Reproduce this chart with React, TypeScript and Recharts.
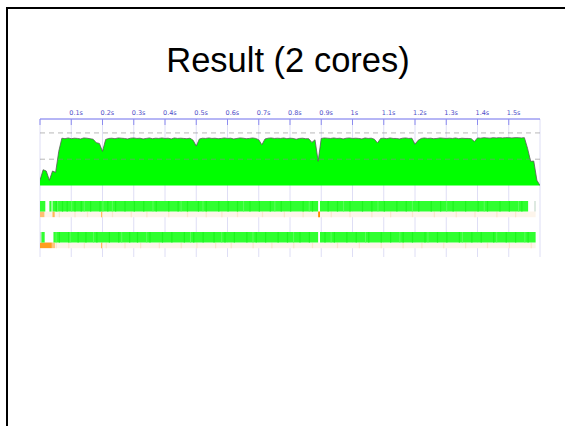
import { ComposedChart, Area, XAxis, YAxis, CartesianGrid, ReferenceLine, ReferenceArea } from 'recharts';

// sample step of the activity profile (seconds)
const STEP = 0.01;

// number of busy cores, one sample per STEP starting at t = 0
const ACTIVITY = [
    0.2, 0.6, 0.55, 0.2, 0.55, 0.5, 1.3, 1.8, 1.78, 1.81,
    1.78, 1.80, 1.79, 1.77, 1.81, 1.80, 1.78, 1.76, 1.63, 1.6,
    1.30, 1.75, 1.79, 1.80, 1.78, 1.81, 1.80, 1.79, 1.77, 1.80,
    1.81, 1.79, 1.80, 1.77, 1.79, 1.81, 1.78, 1.80, 1.79, 1.81,
    1.79, 1.80, 1.77, 1.81, 1.79, 1.80, 1.79, 1.78, 1.80, 1.72,
    1.50, 1.77, 1.80, 1.79, 1.81, 1.79, 1.80, 1.78, 1.79, 1.81,
    1.79, 1.80, 1.77, 1.79, 1.81, 1.80, 1.78, 1.79, 1.81, 1.79,
    1.74, 1.55, 1.77, 1.80, 1.81, 1.79, 1.80, 1.79, 1.81, 1.78,
    1.80, 1.79, 1.76, 1.79, 1.80, 1.78, 1.78, 1.64, 1.74, 0.92,
    1.79, 1.81, 1.80, 1.79, 1.81, 1.79, 1.80, 1.77, 1.80, 1.81,
    1.79, 1.80, 1.79, 1.77, 1.81, 1.79, 1.80, 1.76, 1.62, 1.79,
    1.80, 1.78, 1.81, 1.79, 1.79, 1.77, 1.80, 1.81, 1.79, 1.80,
    1.57, 1.72, 1.79, 1.81, 1.79, 1.80, 1.78, 1.79, 1.81, 1.80,
    1.79, 1.80, 1.79, 1.81, 1.78, 1.80, 1.79, 1.79, 1.78, 1.67,
    1.81, 1.80, 1.82, 1.81, 1.80, 1.82, 1.81, 1.82, 1.81, 1.82,
    1.82, 1.81, 1.82, 1.82, 1.81, 1.82, 1.42, 0.92, 0.93, 0.2, 0,
];

const TICKS = [0, 0.1, 0.2, 0.3, 0.4, 0.5, 0.6, 0.7, 0.8, 0.9, 1, 1.1, 1.2, 1.3, 1.4, 1.5];
const TICK_LABELS = ['', '0.1s', '0.2s', '0.3s', '0.4s', '0.5s', '0.6s', '0.7s', '0.8s', '0.9s', '1s', '1.1s', '1.2s', '1.3s', '1.4s', '1.5s'];

// per-core timelines: [start, end] in seconds
const CORE0_BUSY = [[0, 0.017], [0.030, 0.037], [0.040, 0.890], [0.896, 1.562]];
const CORE1_BUSY = [[0.004, 0.015], [0.043, 0.890], [0.896, 1.586]];
const CORE0_DARK = [0.05, 0.07, 0.085, 0.11, 0.13, 0.16, 0.19, 0.215, 0.24, 0.27, 0.30, 0.33, 0.37, 0.41, 0.44, 0.47, 0.505, 0.53, 0.57, 0.60, 0.63, 0.67, 0.70, 0.735, 0.77, 0.80, 0.84, 0.87, 0.92, 0.95, 0.99, 1.03, 1.06, 1.10, 1.14, 1.17, 1.21, 1.25, 1.28, 1.32, 1.36, 1.40, 1.43, 1.47, 1.50, 1.54];
const CORE1_DARK = [0.06, 0.09, 0.12, 0.145, 0.18, 0.22, 0.25, 0.285, 0.31, 0.35, 0.39, 0.42, 0.46, 0.49, 0.52, 0.555, 0.59, 0.62, 0.66, 0.69, 0.72, 0.76, 0.79, 0.83, 0.86, 0.91, 0.94, 0.98, 1.01, 1.05, 1.09, 1.12, 1.16, 1.19, 1.23, 1.27, 1.30, 1.34, 1.38, 1.41, 1.45, 1.49, 1.52, 1.56];
const CORE0_LIGHT = [0.055, 0.1, 0.14, 0.2, 0.23, 0.36, 0.45, 0.52, 0.65, 0.75, 0.86, 0.97, 1.08, 1.19, 1.3, 1.42, 1.53];
const CORE1_LIGHT = [0.05, 0.095, 0.17, 0.26, 0.34, 0.48, 0.58, 0.68, 0.81, 0.93, 1.04, 1.15, 1.24, 1.35, 1.46, 1.55];
const CORE0_FAINT = [[1.582, 1.586]];
const CORE1_EDGE = [[0, 0.004]];

// orange strip under each core
const STRIP_END = 1.586;
const CORE0_PEACH = [0.06, 0.11, 0.15, 0.23, 0.29, 0.34, 0.41, 0.47, 0.53, 0.58, 0.63, 0.71, 0.78, 0.84, 0.93, 0.99, 1.06, 1.12, 1.19, 1.26, 1.33, 1.39, 1.46, 1.52];
const CORE1_PEACH = [0.05, 0.09, 0.14, 0.21, 0.27, 0.32, 0.38, 0.45, 0.5, 0.56, 0.61, 0.68, 0.74, 0.81, 0.87, 0.95, 1.02, 1.09, 1.16, 1.22, 1.29, 1.36, 1.43, 1.5, 1.57];
const CORE0_HOT = [[0, 0.014, '#ffbf73'], [0.040, 0.047, '#ffb659'], [0.196, 0.199, '#ffa733'], [0.890, 0.896, '#ff8c00']];
const CORE1_HOT = [[0, 0.038, '#ff9d1f'], [0.038, 0.048, '#ffc47f'], [0.196, 0.199, '#ffa02e']];

const DASHED = [1, 2];

const actData = ACTIVITY.map((v, i) => ({ t: i * STEP, act: v }));

function TimeTick(props: any) {
    const { x, y, payload } = props;
    const label = TICK_LABELS[TICKS.indexOf(payload.value)];
    return (
        <text x={x - 2} y={y - 10.5} fontSize={6.5} fill='#4f4fc9' fontFamily='DejaVu Sans'>
            {label}
        </text>
    );
}

function laneAreas(core: number, busy: number[][], dark: number[], light: number[], peach: number[], hot: any[], extra: any[]) {
    const top = core;
    const mid = core + 0.34;
    const bot = core + 0.52;
    const out: any[] = [];
    const rect = (key: string, x1: number, x2: number, y1: number, y2: number, fill: string) => (
        <ReferenceArea key={key} yAxisId='lane' x1={x1} x2={x2} y1={y1} y2={y2} fill={fill} fillOpacity={1} stroke='none' />
    );
    out.push(rect(`s${core}`, 0, STRIP_END, mid, bot, '#fdf5eb'));
    peach.forEach((t, i) => out.push(rect(`p${core}-${i}`, t, t + 0.004, mid, bot, '#fae6cd')));
    hot.forEach((h, i) => out.push(rect(`h${core}-${i}`, h[0], h[1], mid, bot, h[2])));
    busy.forEach((b, i) => out.push(rect(`b${core}-${i}`, b[0], b[1], top, mid, '#30ff30')));
    dark.forEach((t, i) => out.push(rect(`d${core}-${i}`, t, t + 0.004, top, mid, '#1df51d')));
    light.forEach((t, i) => out.push(rect(`l${core}-${i}`, t, t + 0.003, top, mid, '#5cff5c')));
    extra.forEach((e, i) => out.push(rect(`e${core}-${i}`, e[0], e[1], top, mid, '#c8dccf')));
    return out;
}

export default function App() {
    return (
        <div style={{ position: 'absolute', left: 0, top: 0, width: 565, height: 426, overflow: 'hidden', background: '#fff' }}>
            <div style={{ position: 'absolute', left: 6, top: 7, width: 700, height: 600, borderLeft: '2px solid #000', borderTop: '2px solid #000' }} />
            <svg style={{ position: 'absolute', left: 0, top: 0 }} width={565} height={100}>
                <text x={288} y={72} textAnchor='middle' fontSize={34.5} fontFamily='Liberation Sans, Arial, sans-serif' fill='#000'>
                    Result (2 cores)
                </text>
            </svg>
            <div style={{ position: 'absolute', left: 0, top: 0 }}>
                <ComposedChart width={565} height={426} data={actData} margin={{ top: 0, right: 25, bottom: 169, left: 40 }}>
                    <CartesianGrid yAxisId='act' vertical={true} horizontal={false} stroke='#dedef5' strokeWidth={1} />
                    <XAxis
                        dataKey='t'
                        type='number'
                        orientation='top'
                        domain={[0, 1.6]}
                        ticks={TICKS}
                        interval={0}
                        height={119}
                        allowDataOverflow
                        axisLine={{ stroke: '#6c6cec', strokeWidth: 1 }}
                        tickLine={{ stroke: '#8c8cf0', strokeWidth: 1 }}
                        tickSize={-6}
                        tickMargin={0}
                        tick={<TimeTick />}
                    />
                    <YAxis yAxisId='act' type='number' domain={[-2.72, 2.53]} hide allowDataOverflow />
                    <YAxis yAxisId='lane' type='number' domain={[-2.645, 1.806]} reversed hide allowDataOverflow />
                    <Area
                        yAxisId='act'
                        type='linear'
                        dataKey='act'
                        baseValue={0}
                        fill='#00ff00'
                        fillOpacity={1}
                        stroke='#5a5a5a'
                        strokeWidth={0.8}
                        dot={false}
                        activeDot={false}
                        isAnimationActive={false}
                    />
                    {DASHED.map((v) => (
                        <ReferenceLine key={v} yAxisId='act' y={v} stroke='#8a8a8a' strokeOpacity={0.6} strokeDasharray='5 4' />
                    ))}
                    {laneAreas(0, CORE0_BUSY, CORE0_DARK, CORE0_LIGHT, CORE0_PEACH, CORE0_HOT, CORE0_FAINT)}
                    {laneAreas(1, CORE1_BUSY, CORE1_DARK, CORE1_LIGHT, CORE1_PEACH, CORE1_HOT, CORE1_EDGE)}
                </ComposedChart>
            </div>
        </div>
    );
}
